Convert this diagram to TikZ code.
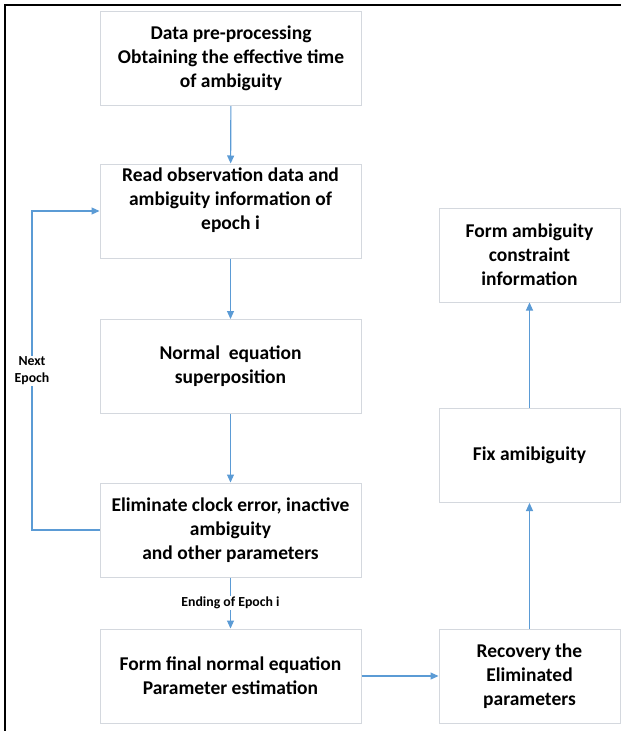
\documentclass[tikz,border=0pt]{standalone}
\usepackage{fontspec}
\setmainfont{Carlito}
\usetikzlibrary{arrows.meta}
\definecolor{flowblue}{RGB}{91,155,213}
\definecolor{boxline}{RGB}{212,216,222}
\definecolor{framecol}{RGB}{0,0,0}
\begin{document}
\begin{tikzpicture}[x=1pt,y=-1pt,
  stepbox/.style={draw=boxline, line width=1pt, fill=white, align=center,
    font=\fontsize{19.5}{24}\selectfont\bfseries, inner sep=0pt},
  midbox/.style={stepbox, minimum width=261pt, minimum height=94pt},
  sidebox/.style={stepbox, minimum width=181pt, minimum height=94pt},
  flow/.style={draw=flowblue, line width=1.1pt, -{Triangle[width=7pt,length=8pt]}},
  flowlabel/.style={fill=white, align=center, inner sep=1pt,
    font=\fontsize{13.8}{17}\selectfont\bfseries}]
\useasboundingbox (0,0) rectangle (621,731);
\fill[white] (0,0) rectangle (621,731);
% outer frame
\draw[framecol, line width=2pt] (5,731) -- (5,5) -- (621,5);

% main column
\node[midbox] (pre)  at (231,58.5) {Data pre-processing\\Obtaining the effective time\\of ambiguity};
\node[midbox] (read) at (230.5,211) {Read observation data and\\ambiguity information of\\epoch i\\\mbox{}};
\node[midbox] (norm) at (230.5,366.5) {Normal\ \ equation\\superposition};
\node[midbox] (elim) at (230.5,530) {Eliminate clock error, inactive\\ambiguity\\and other parameters};
\node[midbox] (final) at (230.5,676) {Form final normal equation\\Parameter estimation};

% right column
\node[sidebox] (cons) at (529.5,255) {Form ambiguity\\constraint\\information};
\node[sidebox] (fix)  at (529.5,455.5) {Fix amibiguity};
\node[sidebox] (rec)  at (529.5,676) {Recovery the\\Eliminated\\parameters};

% connectors
\draw[flow] (pre) -- (read);
\draw[flow] (read) -- (norm);
\draw[flow] (norm) -- (elim);
\draw[flow] (elim) -- node[flowlabel] (endlbl) {Ending of Epoch i} (final);
\draw[flow] (final) -- (rec);
\draw[flow] (rec) -- (fix);
\draw[flow] (fix) -- (cons);

% loop back to the next epoch
\coordinate (lb) at (32,530);
\coordinate (lt) at (32,211);
\draw[flow] (elim.west) -- (lb) -- (lt) -- (read.west);
\node[flowlabel] (next) at (32,371) {Next\\Epoch};
\end{tikzpicture}
\end{document}
